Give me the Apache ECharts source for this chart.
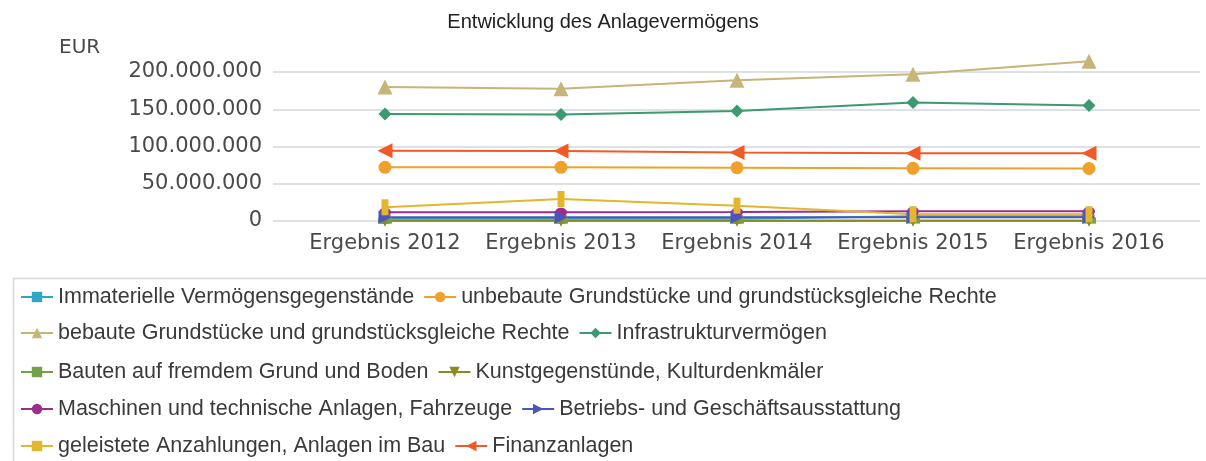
<!DOCTYPE html>
<html>
<head>
<meta charset="utf-8">
<script src="https://cdn.jsdelivr.net/npm/echarts@6/dist/echarts.min.js"></script>
<style>html,body{margin:0;padding:0;background:#fff}#c{width:1206px;height:461px}</style>
</head>
<body>
<div id="c"></div>
<script>
const categories = ['Ergebnis 2012','Ergebnis 2013','Ergebnis 2014','Ergebnis 2015','Ergebnis 2016'];
const yTicks = [0, 50000000, 100000000, 150000000, 200000000];
const seriesNames = [
  'Immaterielle Vermögensgegenstände',
  'unbebaute Grundstücke und grundstücksgleiche Rechte',
  'bebaute Grundstücke und grundstücksgleiche Rechte',
  'Infrastrukturvermögen',
  'Bauten auf fremdem Grund und Boden',
  'Kunstgegenstünde, Kulturdenkmäler',
  'Maschinen und technische Anlagen, Fahrzeuge',
  'Betriebs- und Geschäftsausstattung',
  'geleistete Anzahlungen, Anlagen im Bau',
  'Finanzanlagen'
];
const immaterielle = [3000000, 3000000, 3000000, 6500000, 6500000];
const unbebaute = [72000000, 72000000, 71500000, 70700000, 70500000];
const bebaute = [180000000, 177500000, 189000000, 197000000, 214500000];
const infrastruktur = [143500000, 143000000, 147700000, 159000000, 155000000];
const bautenFremd = [500000, 500000, 500000, 500000, 500000];
const kunst = [300000, 300000, 300000, 300000, 300000];
const maschinen = [11700000, 11800000, 12000000, 13000000, 13000000];
const betriebs = [5000000, 5000000, 5000000, 5000000, 5000000];
const geleistete = [18400000, 29500000, 20600000, 9000000, 9000000];
const finanz = [94400000, 94000000, 92000000, 91000000, 91000000];

const seriesData = [immaterielle, unbebaute, bebaute, infrastruktur, bautenFremd, kunst, maschinen, betriebs, geleistete, finanz];
const colors = ['#2fa6c4', '#f0a12c', '#c7b479', '#3b9a6f', '#74a04c', '#8c8a1e', '#9c2d8e', '#4a55be', '#e2b62e', '#f15a26'];
const symbols = ['rect', 'circle', 'triangle', 'diamond', 'path://M0,0 L24,0 L24,10 L0,10 Z', 'triangle', 'circle', 'triangle', 'rect', 'triangle'];
const symbolSizes = [10, 13, 15, 13, [14, 6], 12, [12, 9], 13, [7, 16], 15];
const rotations = [0, 0, 0, 0, 0, 180, 0, -90, 0, 90];

function fmt(v) { return String(v).replace(/\B(?=(\d{3})+(?!\d))/g, '.'); }

const chart = echarts.init(document.getElementById('c'), null, {renderer: 'canvas'});

const series = seriesNames.map((n, i) => ({
  name: n,
  type: 'line',
  xAxisIndex: 1,
  yAxisIndex: 1,
  data: seriesData[i],
  symbol: symbols[i],
  symbolSize: symbolSizes[i],
  symbolRotate: rotations[i],
  showAllSymbol: true,
  clip: false,
  color: colors[i],
  lineStyle: {width: 2, color: colors[i]},
  itemStyle: {color: colors[i]},
  emphasis: {disabled: true}
}));

const legendRows = [295, 331, 370, 407, 444];
const legends = legendRows.map((y, r) => ({
  data: [seriesNames[2 * r], seriesNames[2 * r + 1]],
  left: 15,
  top: y - 14,
  orient: 'horizontal',
  itemWidth: 32,
  itemHeight: 13,
  itemGap: 9,
  textStyle: {fontFamily: 'Liberation Sans', fontSize: 21.5, color: '#3a3a3a'},
  selectedMode: false
}));

chart.setOption({
  animation: false,
  title: [
    {text: 'Entwicklung des Anlagevermögens', left: 'center', top: 7,
     textStyle: {fontFamily: 'Liberation Sans', fontSize: 20, fontWeight: 'normal', color: '#222'}},
    {text: 'EUR', left: 54, top: 33,
     textStyle: {fontFamily: 'DejaVu Sans', fontSize: 20, fontWeight: 'normal', color: '#4a4a4a'}}
  ],
  legend: legends,
  graphic: [{
    type: 'rect', left: 11, top: 276, silent: true,
    shape: {width: 1200, height: 190},
    style: {fill: 'none', stroke: '#d9d9d9', lineWidth: 1.5}
  }],
  grid: [
    {left: 273, right: 6, top: 72, bottom: 240},
    {left: 297, right: 29, top: 72, bottom: 240}
  ],
  xAxis: [
    {gridIndex: 0, type: 'category', data: categories, show: false},
    {gridIndex: 1, type: 'category', data: categories, boundaryGap: true,
     axisLine: {show: false}, axisTick: {show: false},
     axisLabel: {margin: 12, fontFamily: 'DejaVu Sans', fontSize: 21, color: '#4a4a4a', interval: 0}}
  ],
  yAxis: [
    {gridIndex: 0, type: 'value', min: yTicks[0], max: yTicks[yTicks.length - 1], interval: 50000000,
     axisLine: {show: false}, axisTick: {show: false},
     axisLabel: {margin: 11, fontFamily: 'DejaVu Sans', fontSize: 21, color: '#4a4a4a', formatter: fmt},
     splitLine: {show: true, lineStyle: {color: '#dce2e5', width: 2}}},
    {gridIndex: 1, type: 'value', min: yTicks[0], max: yTicks[yTicks.length - 1], interval: 50000000, show: false,
     splitLine: {show: false}}
  ],
  series: series
});
</script>
</body>
</html>
